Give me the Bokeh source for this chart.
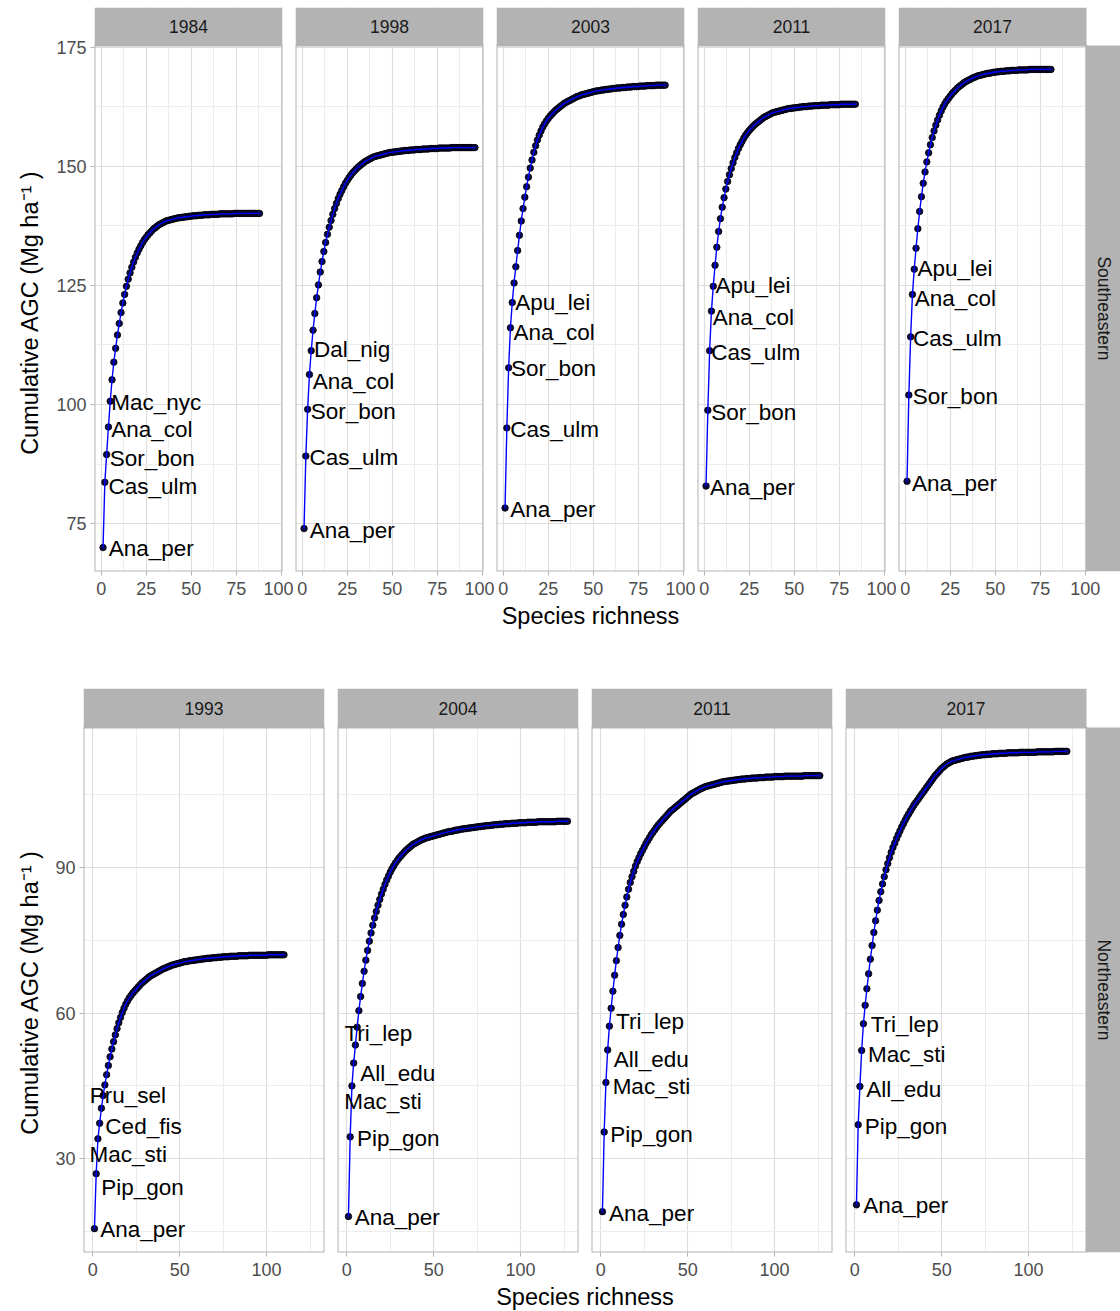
import numpy as np
from bokeh.plotting import figure
from bokeh.models import Range1d, FixedTicker
from bokeh.layouts import row, column
from bokeh.core.properties import value
from bokeh.embed import file_html
from bokeh.resources import INLINE

# ---------------------------------------------------------------------------
# Cumulative above-ground carbon (Mg ha-1) as species are added by rank
# ---------------------------------------------------------------------------
se_years = ["1984", "1998", "2003", "2011", "2017"]
ne_years = ["1993", "2004", "2011", "2017"]

se_1984 = [70.0, 83.7, 89.5, 95.3, 100.7, 105.2, 108.9, 111.8, 114.6, 117.0,
           119.3, 121.3, 123.1, 124.8, 126.3, 127.6, 128.8, 129.9, 130.9, 131.8,
           132.6, 133.3, 134.0, 134.6, 135.1, 135.6, 136.0, 136.4, 136.8, 137.1,
           137.4, 137.7, 137.9, 138.1, 138.3, 138.5, 138.6, 138.7, 138.8, 138.9,
           139.0, 139.1, 139.2, 139.2, 139.3, 139.3, 139.4, 139.4, 139.5, 139.5,
           139.6, 139.6, 139.6, 139.7, 139.7, 139.7, 139.8, 139.8, 139.8, 139.8,
           139.9, 139.9, 139.9, 139.9, 139.9, 140.0, 140.0, 140.0, 140.0, 140.0,
           140.0, 140.0, 140.0, 140.1, 140.1, 140.1, 140.1, 140.1, 140.1, 140.1,
           140.1, 140.1, 140.1, 140.1, 140.1, 140.1, 140.1, 140.1]

se_1998 = [74.0, 89.2, 99.0, 106.3, 111.3, 115.6, 119.1, 122.4, 125.1, 127.8,
           130.0, 132.1, 134.0, 135.7, 137.2, 138.6, 139.9, 141.1, 142.2, 143.2,
           144.1, 144.9, 145.7, 146.4, 147.0, 147.6, 148.1, 148.6, 149.0, 149.4,
           149.8, 150.1, 150.4, 150.7, 151.0, 151.2, 151.4, 151.6, 151.8, 152.0,
           152.1, 152.2, 152.3, 152.4, 152.5, 152.6, 152.7, 152.8, 152.9, 152.9,
           153.0, 153.0, 153.1, 153.1, 153.2, 153.2, 153.3, 153.3, 153.3, 153.4,
           153.4, 153.4, 153.5, 153.5, 153.5, 153.5, 153.6, 153.6, 153.6, 153.6,
           153.7, 153.7, 153.7, 153.7, 153.7, 153.8, 153.8, 153.8, 153.8, 153.8,
           153.8, 153.8, 153.9, 153.9, 153.9, 153.9, 153.9, 153.9, 153.9, 153.9,
           153.9, 153.9, 153.9, 153.9, 153.9, 153.9]

se_2003 = [78.3, 95.1, 107.7, 116.1, 121.4, 125.5, 128.9, 132.3, 135.5, 138.5,
           141.1, 143.5, 145.7, 147.7, 149.6, 151.3, 152.9, 154.3, 155.5, 156.5,
           157.4, 158.2, 158.9, 159.5, 160.0, 160.5, 160.9, 161.3, 161.7, 162.0,
           162.3, 162.6, 162.9, 163.2, 163.4, 163.6, 163.8, 164.0, 164.2, 164.4,
           164.6, 164.7, 164.9, 165.0, 165.1, 165.2, 165.3, 165.4, 165.5, 165.6,
           165.7, 165.8, 165.8, 165.9, 166.0, 166.0, 166.1, 166.1, 166.2, 166.2,
           166.3, 166.3, 166.4, 166.4, 166.4, 166.5, 166.5, 166.5, 166.6, 166.6,
           166.6, 166.7, 166.7, 166.7, 166.7, 166.8, 166.8, 166.8, 166.8, 166.9,
           166.9, 166.9, 166.9, 166.9, 167.0, 167.0, 167.0, 167.0, 167.0, 167.0]

se_2011 = [82.9, 98.8, 111.3, 119.6, 124.8, 129.2, 133.0, 136.3, 139.0, 141.4,
           143.4, 145.2, 146.8, 148.2, 149.5, 150.7, 151.8, 152.8, 153.7, 154.5,
           155.2, 155.9, 156.5, 157.0, 157.5, 157.9, 158.3, 158.7, 159.0, 159.3,
           159.6, 159.9, 160.2, 160.4, 160.6, 160.8, 161.0, 161.2, 161.3, 161.4,
           161.5, 161.6, 161.7, 161.8, 161.9, 162.0, 162.1, 162.1, 162.2, 162.2,
           162.3, 162.3, 162.4, 162.4, 162.5, 162.5, 162.5, 162.6, 162.6, 162.6,
           162.7, 162.7, 162.7, 162.7, 162.8, 162.8, 162.8, 162.8, 162.8, 162.9,
           162.9, 162.9, 162.9, 162.9, 162.9, 163.0, 163.0, 163.0, 163.0, 163.0,
           163.0, 163.0, 163.0, 163.0]

se_2017 = [83.9, 102.0, 114.2, 123.1, 128.4, 132.8, 136.9, 140.5, 143.6, 146.4,
           148.8, 150.9, 152.8, 154.5, 156.0, 157.4, 158.6, 159.7, 160.7, 161.6,
           162.4, 163.1, 163.7, 164.2, 164.7, 165.2, 165.6, 166.0, 166.4, 166.7,
           167.0, 167.3, 167.6, 167.8, 168.0, 168.2, 168.4, 168.6, 168.7, 168.9,
           169.0, 169.1, 169.2, 169.3, 169.4, 169.5, 169.5, 169.6, 169.7, 169.7,
           169.8, 169.8, 169.9, 169.9, 169.9, 170.0, 170.0, 170.0, 170.1, 170.1,
           170.1, 170.1, 170.2, 170.2, 170.2, 170.2, 170.2, 170.2, 170.3, 170.3,
           170.3, 170.3, 170.3, 170.3, 170.3, 170.3, 170.3, 170.3, 170.3, 170.3,
           170.3]

ne_1993 = [15.6, 26.9, 34.1, 37.3, 40.4, 43.0, 45.2, 47.3, 49.2, 51.0,
           52.6, 54.1, 55.5, 56.8, 58.0, 59.1, 60.1, 61.0, 61.8, 62.5,
           63.1, 63.6, 64.1, 64.5, 64.9, 65.3, 65.7, 66.1, 66.4, 66.7,
           67.0, 67.3, 67.6, 67.8, 68.0, 68.2, 68.4, 68.6, 68.8, 69.0,
           69.2, 69.3, 69.5, 69.6, 69.8, 69.9, 70.0, 70.1, 70.2, 70.3,
           70.4, 70.5, 70.6, 70.6, 70.7, 70.8, 70.8, 70.9, 70.9, 71.0,
           71.0, 71.1, 71.1, 71.2, 71.2, 71.3, 71.3, 71.3, 71.4, 71.4,
           71.4, 71.5, 71.5, 71.5, 71.6, 71.6, 71.6, 71.6, 71.7, 71.7,
           71.7, 71.7, 71.7, 71.8, 71.8, 71.8, 71.8, 71.8, 71.8, 71.9,
           71.9, 71.9, 71.9, 71.9, 71.9, 71.9, 71.9, 71.9, 71.9, 71.9,
           72.0, 72.0, 72.0, 72.0, 72.0, 72.0, 72.0, 72.0, 72.0, 72.0]

ne_2004 = [18.1, 34.5, 45.0, 49.7, 53.4, 57.1, 60.5, 63.4, 66.1, 68.6,
           70.9, 72.9, 74.8, 76.5, 78.1, 79.6, 80.9, 82.2, 83.4, 84.5,
           85.5, 86.5, 87.4, 88.2, 89.0, 89.7, 90.3, 90.9, 91.4, 91.9,
           92.3, 92.7, 93.1, 93.5, 93.8, 94.1, 94.4, 94.7, 94.9, 95.1,
           95.3, 95.5, 95.7, 95.8, 96.0, 96.1, 96.2, 96.3, 96.4, 96.5,
           96.6, 96.7, 96.8, 96.9, 97.0, 97.1, 97.2, 97.3, 97.4, 97.4,
           97.5, 97.6, 97.7, 97.7, 97.8, 97.9, 97.9, 98.0, 98.0, 98.1,
           98.1, 98.2, 98.2, 98.3, 98.3, 98.4, 98.4, 98.5, 98.5, 98.6,
           98.6, 98.6, 98.7, 98.7, 98.8, 98.8, 98.8, 98.9, 98.9, 98.9,
           99.0, 99.0, 99.0, 99.0, 99.1, 99.1, 99.1, 99.1, 99.2, 99.2,
           99.2, 99.2, 99.2, 99.3, 99.3, 99.3, 99.3, 99.3, 99.3, 99.4,
           99.4, 99.4, 99.4, 99.4, 99.4, 99.4, 99.4, 99.4, 99.4, 99.4,
           99.5, 99.5, 99.5, 99.5, 99.5, 99.5, 99.5]

ne_2011 = [19.1, 35.5, 45.7, 52.4, 57.3, 61.0, 64.5, 67.8, 70.8, 73.5,
           76.0, 78.3, 80.3, 82.2, 83.9, 85.5, 86.9, 88.1, 89.2, 90.3,
           91.2, 92.0, 92.8, 93.5, 94.2, 94.9, 95.5, 96.1, 96.7, 97.2,
           97.7, 98.2, 98.7, 99.1, 99.5, 99.9, 100.3, 100.7, 101.1, 101.5,
           101.8, 102.1, 102.4, 102.7, 103.0, 103.3, 103.6, 103.9, 104.2, 104.5,
           104.8, 105.1, 105.3, 105.5, 105.7, 105.9, 106.1, 106.3, 106.4, 106.6,
           106.7, 106.8, 106.9, 107.0, 107.1, 107.2, 107.3, 107.4, 107.5, 107.6,
           107.7, 107.7, 107.8, 107.8, 107.9, 107.9, 108.0, 108.0, 108.1, 108.1,
           108.2, 108.2, 108.2, 108.3, 108.3, 108.3, 108.4, 108.4, 108.4, 108.4,
           108.5, 108.5, 108.5, 108.5, 108.6, 108.6, 108.6, 108.6, 108.6, 108.7,
           108.7, 108.7, 108.7, 108.7, 108.7, 108.8, 108.8, 108.8, 108.8, 108.8,
           108.8, 108.8, 108.8, 108.8, 108.8, 108.8, 108.9, 108.9, 108.9, 108.9,
           108.9, 108.9, 108.9, 108.9, 108.9, 108.9]

ne_2017 = [20.5, 37.0, 44.9, 52.3, 57.8, 61.6, 65.0, 68.1, 71.1, 73.9,
           76.6, 79.0, 81.2, 83.2, 85.0, 86.6, 88.1, 89.5, 90.8, 92.0,
           93.1, 94.1, 95.0, 95.9, 96.7, 97.5, 98.3, 99.0, 99.7, 100.4,
           101.0, 101.6, 102.2, 102.8, 103.3, 103.8, 104.3, 104.8, 105.3, 105.8,
           106.3, 106.8, 107.3, 107.8, 108.3, 108.8, 109.2, 109.6, 110.0, 110.4,
           110.7, 111.0, 111.3, 111.5, 111.7, 111.9, 112.0, 112.1, 112.2, 112.3,
           112.4, 112.5, 112.6, 112.7, 112.7, 112.8, 112.9, 112.9, 113.0, 113.0,
           113.1, 113.1, 113.2, 113.2, 113.2, 113.3, 113.3, 113.3, 113.4, 113.4,
           113.4, 113.4, 113.5, 113.5, 113.5, 113.5, 113.5, 113.6, 113.6, 113.6,
           113.6, 113.6, 113.6, 113.6, 113.7, 113.7, 113.7, 113.7, 113.7, 113.7,
           113.7, 113.7, 113.7, 113.7, 113.8, 113.8, 113.8, 113.8, 113.8, 113.8,
           113.8, 113.8, 113.8, 113.8, 113.9, 113.9, 113.9, 113.9, 113.9, 113.9,
           113.9, 113.9]

# species occupying the first five ranks of each curve
se_species = [["Ana_per", "Cas_ulm", "Sor_bon", "Ana_col", "Mac_nyc"],
              ["Ana_per", "Cas_ulm", "Sor_bon", "Ana_col", "Dal_nig"],
              ["Ana_per", "Cas_ulm", "Sor_bon", "Ana_col", "Apu_lei"],
              ["Ana_per", "Sor_bon", "Cas_ulm", "Ana_col", "Apu_lei"],
              ["Ana_per", "Sor_bon", "Cas_ulm", "Ana_col", "Apu_lei"]]
ne_species = [["Ana_per", "Pip_gon", "Mac_sti", "Ced_fis", "Pru_sel"],
              ["Ana_per", "Pip_gon", "Mac_sti", "All_edu", "Tri_lep"],
              ["Ana_per", "Pip_gon", "Mac_sti", "All_edu", "Tri_lep"],
              ["Ana_per", "Pip_gon", "All_edu", "Mac_sti", "Tri_lep"]]

se_series = [se_1984, se_1998, se_2003, se_2011, se_2017]
ne_series = [ne_1993, ne_2004, ne_2011, ne_2017]

se_xticks, se_xminor = [0, 25, 50, 75, 100], [12.5, 37.5, 62.5, 87.5]
se_yticks, se_yminor = [75, 100, 125, 150, 175], [62.5, 87.5, 112.5, 137.5, 162.5]
ne_xticks, ne_xminor = [0, 50, 100], [25, 75, 125]
ne_yticks, ne_yminor = [30, 60, 90], [15, 45, 75, 105]

# ---------------------------------------------------------------------------
# styling
# ---------------------------------------------------------------------------
FONT = "Liberation Sans"
STRIP = "#B3B3B3"
BORDER = "#B3B3B3"
GRID_MAJOR = "#DEDEDE"
GRID_MINOR = "#EDEDED"
POINT = "#0B0B45"
LINE = "#0000FF"
Y_TITLE = "Cumulative AGC (Mg  ha\u207b\u00b9 )"
X_TITLE = "Species richness"
TITLE_PX = "23.5px"

# repelled label placement in screen pixels (dx right, dy down) per panel
se_nudge = [[(5.6, 0.8), (3.6, 4.0), (3.0, 4.0), (2.7, 2.8), (1.0, 1.2)],
            [(5.6, 1.9), (3.6, 1.2), (3.0, 2.0), (3.4, 6.7), (2.7, -1.2)],
            [(5.3, 1.6), (3.3, 2.0), (2.3, 0.7), (3.0, 4.3), (3.0, -0.4)],
            [(4.0, 1.2), (3.4, 2.0), (1.7, 2.0), (1.3, 6.0), (2.3, -0.8)],
            [(5.0, 2.0), (4.0, 1.2), (2.4, 1.2), (2.3, 4.4), (3.3, -0.3)]]
ne_nudge = [[(5.7, 1.2), (5.0, 14.0), (-8.4, 16.1), (5.7, 3.2), (-11.7, -12.9)],
            [(6.3, 1.2), (6.7, 1.6), (-7.7, 15.3), (6.6, 10.1), (-11.0, -12.0)],
            [(6.6, 2.0), (6.0, 2.0), (6.7, 4.1), (6.0, 9.2), (6.7, -4.4)],
            [(6.7, 0.9), (6.6, 1.6), (6.3, 2.8), (6.4, 4.0), (7.3, 1.2)]]


def expand(lo, hi, f=0.05):
    d = hi - lo
    return lo - f * d, hi + f * d


def bare_figure(width, height):
    f = figure(width=width, height=height, x_range=Range1d(0, width),
               y_range=Range1d(0, height), x_axis_location=None, y_axis_location=None,
               min_border=0, toolbar_location=None, tools="", output_backend="svg",
               background_fill_color="white", border_fill_color="white")
    f.xgrid.visible = False
    f.ygrid.visible = False
    f.outline_line_color = None
    return f


def style_axis(ax, standoff):
    ax.axis_line_color = None
    ax.major_tick_line_color = BORDER
    ax.major_tick_line_width = 1
    ax.major_tick_out = 4
    ax.major_tick_in = 0
    ax.minor_tick_line_color = None
    ax.major_label_text_font = FONT
    ax.major_label_text_font_size = "18px"
    ax.major_label_text_color = "#4D4D4D"
    ax.major_label_standoff = standoff


def make_panel(year, vals, names, nudge, xlim, ylim, xt, xm, yt, ym, frame_w, frame_h,
               strip_h, top_pad, bl, br, bb, y_axis=False, side_label=None, side_w=0):
    """One facet: year strip on top, curve panel below, optional row strip at right."""
    x0, x1 = xlim
    y0, y1 = ylim
    x_end = x1 + side_w * (x1 - x0) / frame_w
    y_top = y1 + strip_h * (y1 - y0) / frame_h
    p = figure(width=bl + frame_w + side_w + br, height=top_pad + strip_h + frame_h + bb,
               x_range=Range1d(x0, x_end), y_range=Range1d(y0, y_top),
               x_axis_location="below", y_axis_location="left" if y_axis else None,
               min_border_left=bl, min_border_right=br, min_border_top=top_pad,
               min_border_bottom=bb, toolbar_location=None, tools="",
               output_backend="svg", background_fill_color="white",
               border_fill_color="white")
    p.outline_line_color = None
    xtk = FixedTicker(ticks=xt, minor_ticks=xm)
    ytk = FixedTicker(ticks=yt, minor_ticks=ym)
    p.xaxis.ticker = xtk
    p.xgrid.ticker = xtk
    p.ygrid.ticker = ytk
    for g in (p.xgrid, p.ygrid):
        g.grid_line_color = GRID_MAJOR
        g.grid_line_width = 1.2
        g.minor_grid_line_color = GRID_MINOR
        g.minor_grid_line_width = 1
    style_axis(p.xaxis, 6)
    if y_axis:
        p.yaxis.ticker = ytk
        style_axis(p.yaxis, 4)

    # panel border, then the grey facet strips
    p.quad(left=[x0], right=[x1], bottom=[y0], top=[y1],
           fill_color=None, line_color=BORDER, line_width=2)
    p.quad(left=[x0], right=[x1], bottom=[y1], top=[y_top],
           fill_color=STRIP, line_color=None)
    p.text(x=[(x0 + x1) / 2], y=[(y1 + y_top) / 2], text=[year],
           text_align="center", text_baseline="middle",
           text_font=value(FONT), text_font_size="17.5px", text_color="#1A1A1A")
    if side_label:
        p.quad(left=[x1], right=[x_end], bottom=[y0], top=[y1],
               fill_color=STRIP, line_color=None)
        p.text(x=[(x1 + x_end) / 2], y=[(y0 + y1) / 2], text=[side_label],
               angle=-np.pi / 2, text_align="center", text_baseline="middle",
               text_font=value(FONT), text_font_size="17.5px", text_color="#1A1A1A")

    xs = list(range(1, len(vals) + 1))
    p.scatter(xs, vals, size=6.5, fill_color=POINT, line_color="black", line_width=0.8)
    p.line(xs, vals, line_color=LINE, line_width=1.4)
    k = len(names)
    p.text(x=xs[:k], y=vals[:k], text=names,
           x_offset=[d[0] for d in nudge], y_offset=[d[1] for d in nudge],
           text_align="left", text_baseline="middle",
           text_font=value(FONT), text_font_size="22.5px", text_color="black")
    return p


def make_y_title(width, height, yc, xc):
    t = bare_figure(width, height)
    t.text(x=[xc], y=[yc], text=[Y_TITLE], angle=np.pi / 2,
           text_align="center", text_baseline="middle",
           text_font=value(FONT), text_font_size=TITLE_PX, text_color="black")
    return t


def make_caption(text, width, height, cx, cy_top):
    c = bare_figure(width, height)
    c.text(x=[cx], y=[height - cy_top], text=[text], text_align="center",
           text_baseline="middle", text_font=value(FONT),
           text_font_size=TITLE_PX, text_color="black")
    return c


SIDE_W = 34
BOTTOM = 31
TITLE_W = 45

# ---------------------------------------------------------------------------
# Southeastern facet row
# ---------------------------------------------------------------------------
se_xlim = expand(1, max(len(v) for v in se_series))
se_ylim = expand(min(min(v) for v in se_series), max(max(v) for v in se_series))
se_borders = [(94 - TITLE_W, 11), (2, 11), (2, 11), (2, 11), (2, 0)]
se_height = 7 + 38 + 526 + BOTTOM

se_panels = [make_y_title(TITLE_W, se_height, se_height - 322, 29)]
for i, yr in enumerate(se_years):
    bl, br = se_borders[i]
    last = i == len(se_years) - 1
    se_panels.append(make_panel(
        yr, se_series[i], se_species[i], se_nudge[i], se_xlim, se_ylim,
        se_xticks, se_xminor, se_yticks, se_yminor, 188, 526, 38, 7, bl, br, BOTTOM,
        y_axis=(i == 0), side_label="Southeastern" if last else None,
        side_w=SIDE_W if last else 0))

# ---------------------------------------------------------------------------
# Northeastern facet row
# ---------------------------------------------------------------------------
ne_xlim = expand(1, max(len(v) for v in ne_series))
ne_ylim = expand(min(min(v) for v in ne_series), max(max(v) for v in ne_series))
ne_borders = [(83 - TITLE_W, 6), (7, 6), (7, 6), (7, 0)]
ne_height = 39 + 525 + BOTTOM

ne_panels = [make_y_title(TITLE_W, ne_height, ne_height - (1005 - 688), 29)]
for i, yr in enumerate(ne_years):
    bl, br = ne_borders[i]
    last = i == len(ne_years) - 1
    ne_panels.append(make_panel(
        yr, ne_series[i], ne_species[i], ne_nudge[i], ne_xlim, ne_ylim,
        ne_xticks, ne_xminor, ne_yticks, ne_yminor, 241, 525, 39, 0, bl, br, BOTTOM,
        y_axis=(i == 0), side_label="Northeastern" if last else None,
        side_w=SIDE_W if last else 0))

se_caption = make_caption(X_TITLE, 1120, 688 - se_height, (94 + 1086) / 2, 13.5)
ne_caption = make_caption(X_TITLE, 1120, 1311 - 688 - ne_height, (83 + 1086) / 2, 13.5)

layout = column(
    row(*se_panels, spacing=0),
    se_caption,
    row(*ne_panels, spacing=0),
    ne_caption,
    spacing=0,
)

with open("out.html", "w") as f:
    f.write(file_html(layout, INLINE, title="Cumulative AGC by species richness"))
